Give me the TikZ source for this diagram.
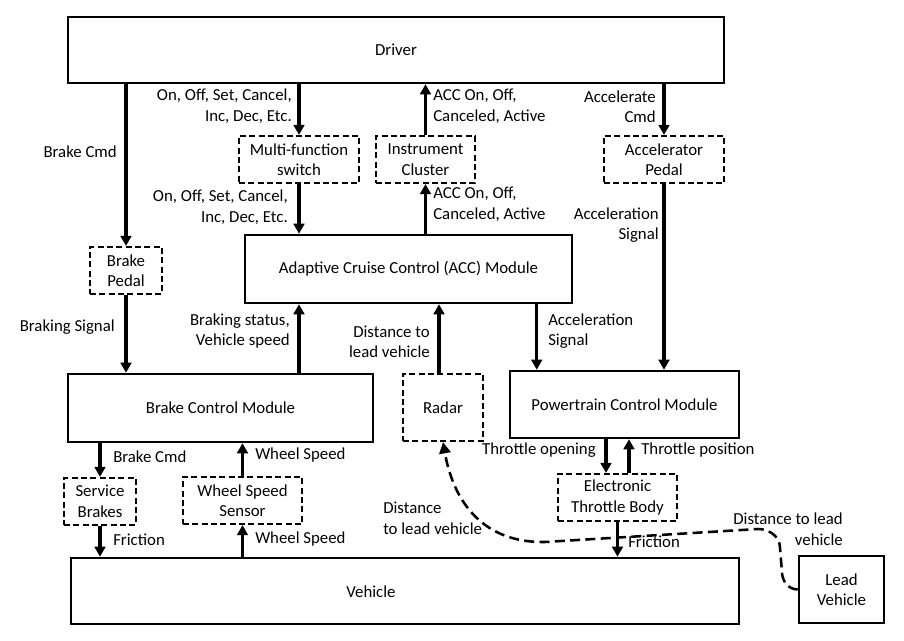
\documentclass[tikz,border=0pt]{standalone}
\usepackage{fontspec}
\setmainfont{Carlito}
\usetikzlibrary{arrows.meta,calc}
\begin{document}
\begin{tikzpicture}[x=0.75pt,y=-0.75pt,
 font=\fontsize{12.6}{15.4}\selectfont,
 bx/.style={draw, line width=1.9pt, inner sep=0pt, align=center},
 dbx/.style={bx, line width=1.6pt, dash pattern=on 4.5pt off 2.5pt},
 wh/.style 2 args={minimum width=#1*0.75pt, minimum height=#2*0.75pt},
 arr/.style={line width=2.4pt, -{Triangle[length=7.5pt,width=8pt]}},
 lbl/.style={inner sep=0pt},
 lr/.style={lbl, anchor=east, align=right},
 ll/.style={lbl, anchor=west, align=left},
 dsh/.style={line width=1.9pt, dash pattern=on 7.5pt off 4pt, -{Triangle[length=8.5pt,width=8.5pt]}}]
\useasboundingbox (0,0) rectangle (904,641);
% boxes
\node[bx,wh={656}{66}] (drv) at (396,50) {Driver};
\node[dbx,wh={120}{47}] (mfs) at (299,159.5) {Multi-function\\switch};
\node[dbx,wh={99}{47}] (ic) at (425.5,159.5) {Instrument\\Cluster};
\node[dbx,wh={120}{47}] (ap) at (664,159.5) {Accelerator\\Pedal};
\node[dbx,wh={72}{47}] (bp) at (126,270.5) {Brake\\Pedal};
\node[bx,wh={327}{68}] (acc) at (408.5,269) {Adaptive Cruise Control (ACC) Module};
\node[bx,wh={305}{68}] (bcm) at (220.5,408) {Brake Control Module};
\node[dbx,wh={80}{67}] (rad) at (443,407.5) {Radar};
\node[bx,wh={229}{67}] (pcm) at (624.5,404.5) {Powertrain Control Module};
\node[dbx,wh={119}{47}] (etb) at (617.5,497.5) {Electronic\\Throttle Body};
\node[dbx,wh={72}{47}] (sb) at (100,501.5) {Service\\Brakes};
\node[dbx,wh={119}{47}] (wss) at (242.5,500.5) {Wheel Speed\\Sensor};
\node[bx,wh={668}{66}] (veh) at (405,591) {};
\node[lbl] (vehtxt) at ($(veh.center)+(-34,1)$) {Vehicle};
\node[bx,wh={85}{67}] (lv) at (841.5,589.5) {Lead\\Vehicle};
% arrows
\draw[arr] (drv.south -| bp.north) -- (bp.north);
\draw[arr] (drv.south -| mfs.north) -- (mfs.north);
\draw[arr] (ic.north) -- (ic.north |- drv.south);
\draw[arr] (drv.south -| ap.north) -- (ap.north);
\draw[arr] (mfs.south) -- (mfs.south |- acc.north);
\draw[arr] (acc.north -| ic.south) -- (ic.south);
\draw[arr] (bp.south) -- (bp.south |- bcm.north);
\draw[arr] (bcm.north -| mfs.south) -- (mfs.south |- acc.south);
\draw[arr] ($(rad.north)+(-4,0)$) -- ($(rad.north |- acc.south)+(-4,0)$);
\draw[arr] ($(acc.south -| pcm.north west)+(28,0)$) -- ($(pcm.north west)+(28,0)$);
\draw[arr] (ap.south) -- (ap.south |- pcm.north);
\draw[arr] ($(pcm.south -| etb.north)+(-11.5,0)$) -- ($(etb.north)+(-11.5,0)$);
\draw[arr] ($(etb.north)+(11.5,0)$) -- ($(pcm.south -| etb.north)+(11.5,0)$);
\draw[arr] (etb.south) -- (etb.south |- veh.north);
\draw[arr] (bcm.south -| sb.north) -- (sb.north);
\draw[arr] (wss.north) -- (wss.north |- bcm.south);
\draw[arr] (sb.south) -- (sb.south |- veh.north);
\draw[arr] (veh.north -| wss.south) -- (wss.south);
% dashed radar path
\draw[dsh] (lv.west) to[out=180,in=-90] (782,572) -- (780,548) to[out=90,in=0] (758,529) -- (545,542) to[out=181,in=-80,looseness=1.1] (rad.south);
% labels
\node[lr] (l1) at (117,152) {Brake Cmd};
\node[lr] (l2) at (292,106.5) {On, Off, Set, Cancel,\\Inc, Dec, Etc.};
\node[lr] (l3) at (288,207) {On, Off, Set, Cancel,\\Inc, Dec, Etc.};
\node[ll] (l4) at (433,106.5) {ACC On, Off,\\Canceled, Active};
\node[ll] (l5) at (433,204.5) {ACC On, Off,\\Canceled, Active};
\node[lr] (l6) at (656,106.5) {Accelerate\\Cmd};
\node[lr] (l7) at (659,225) {Acceleration\\Signal};
\node[lr] (l8) at (115,327) {Braking Signal};
\node[lr] (l9) at (290,331) {Braking status,\\Vehicle speed};
\node[lr] (l10) at (430,342) {Distance to\\lead vehicle};
\node[ll] (l11) at (548,331) {Acceleration\\Signal};
\node[lr] (l12) at (596,450) {Throttle opening};
\node[ll] (l13) at (641,450) {Throttle position};
\node[ll] (l14) at (113,457) {Brake Cmd};
\node[ll] (l15) at (255,455) {Wheel Speed};
\node[ll] (l16) at (113,540) {Friction};
\node[ll] (l17) at (255,539) {Wheel Speed};
\node[ll] (l18) at (628,542) {Friction};
\node[ll] (l19) at (383,518.5) {Distance\\to lead vehicle};
\node[lr] (l20) at (843,529) {Distance to lead\\vehicle};
\end{tikzpicture}
\end{document}
